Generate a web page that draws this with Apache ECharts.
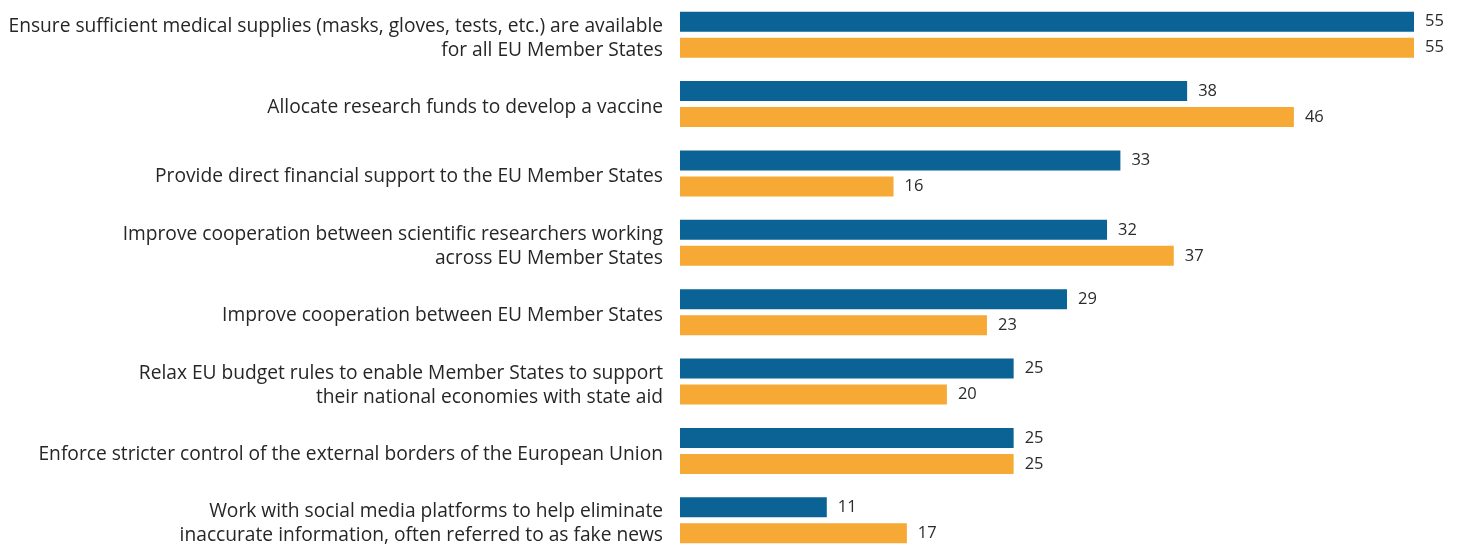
<!DOCTYPE html>
<html>
<head>
<meta charset="utf-8">
<style>html,body{margin:0;padding:0;background:#fff;}#c{width:1459px;height:545px;}</style>
<script src="https://cdn.jsdelivr.net/npm/echarts@6/dist/echarts.min.js"></script>
</head>
<body>
<div id="c"></div>
<script>
const categories = [
  "Ensure sufficient medical supplies (masks, gloves, tests, etc.) are available\nfor all EU Member States",
  "Allocate research funds to develop a vaccine",
  "Provide direct financial support to the EU Member States",
  "Improve cooperation between scientific researchers working\nacross EU Member States",
  "Improve cooperation between EU Member States",
  "Relax EU budget rules to enable Member States to support\ntheir national economies with state aid",
  "Enforce stricter control of the external borders of the European Union",
  "Work with social media platforms to help eliminate\ninaccurate information, often referred to as fake news"
];
const blueValues = [55, 38, 33, 32, 29, 25, 25, 11];
const orangeValues = [55, 46, 16, 37, 23, 20, 25, 17];

const chart = echarts.init(document.getElementById('c'));
const labelStyle = {show: true, position: 'right', distance: 11, color: '#2b2b2b', fontFamily: 'Open Sans', fontSize: 16.5};
const txt = {color: '#262626', fontFamily: 'Open Sans', fontSize: 19.2, lineHeight: 24, align: 'right'};
chart.setOption({
  animation: false,
  grid: {left: 680, top: 0, right: 45, bottom: -10, containLabel: false, outerBoundsMode: 'none'},
  xAxis: {type: 'value', min: 0, max: 55, show: false},
  yAxis: {
    type: 'category', data: categories, inverse: true,
    axisLine: {show: false}, axisTick: {show: false},
    axisLabel: {
      margin: 17, align: 'right',
      formatter: function (v) {
        return v.split('\n').map(function (l, i) { return (i === 0 ? '{f|' : '{b|') + l + '}'; }).join('\n');
      },
      rich: {
        f: Object.assign({}, txt, {lineHeight: 31, padding: [7, 0, 0, 0]}),
        b: txt
      }
    }
  },
  series: [
    {type: 'bar', data: blueValues, barWidth: 20, barGap: '30%', itemStyle: {color: '#0b6294'}, label: labelStyle},
    {type: 'bar', data: orangeValues, barWidth: 20, barGap: '30%', itemStyle: {color: '#f6a935'}, label: labelStyle}
  ]
});
</script>
</body>
</html>
